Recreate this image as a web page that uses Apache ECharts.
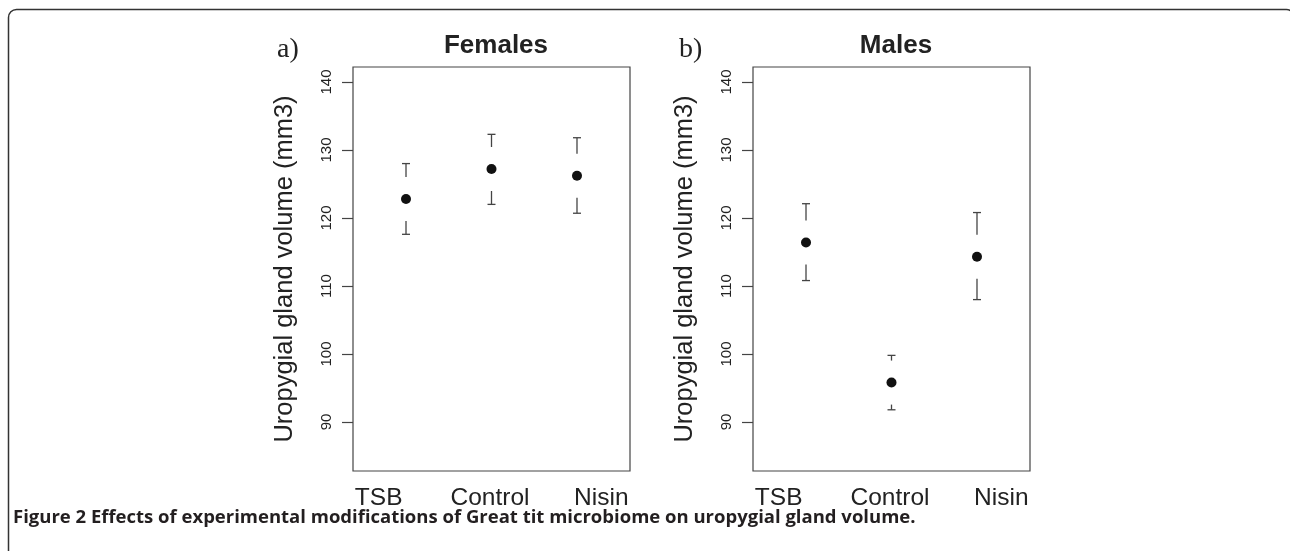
<!DOCTYPE html>
<html>
<head>
<meta charset="utf-8">
<script src="https://cdn.jsdelivr.net/npm/echarts@6/dist/echarts.min.js"></script>
<style>
html, body { margin: 0; padding: 0; background: #fff; }
#main { width: 1290px; height: 551px; }
</style>
</head>
<body>
<div id="main"></div>
<script>
var categories = ['TSB', 'Control', 'Nisin'];

// a) Females
var femaleMean = [122.8, 127.2, 126.2];
var femaleUpper = [128.0, 132.3, 131.8];
var femaleLower = [117.6, 122.0, 120.7];

// b) Males
var maleMean = [116.4, 95.8, 114.3];
var maleUpper = [122.1, 99.8, 120.8];
var maleLower = [110.8, 91.8, 108.0];

var yTicks = [90, 100, 110, 120, 130, 140];
var yLim = [85, 140];
var xLim = [0.5, 3.5];

var dark = '#222';
var lineCol = '#444';

// R style axis extension (4% each side)
function extend(lim) {
    var d = (lim[1] - lim[0]) * 0.04;
    return [lim[0] - d, lim[1] + d];
}

function pts(mean) {
    return mean.map(function (v, i) { return [i + 1, v]; });
}
function bars(mean, lower, upper) {
    return mean.map(function (v, i) { return [i + 1, v, lower[i], upper[i]]; });
}

// error bar with a gap round the point, like plotCI
function renderBar(params, api) {
    var x = api.value(0);
    var m = api.coord([x, api.value(1)]);
    var lo = api.coord([x, api.value(2)]);
    var hi = api.coord([x, api.value(3)]);
    var gap = 22, cap = 4;
    var st = { stroke: lineCol, lineWidth: 1.3 };
    var topEnd = Math.max(hi[1] + 1, m[1] - gap);
    var botEnd = Math.min(lo[1] - 1, m[1] + gap);
    return {
        type: 'group',
        children: [
            { type: 'line', shape: { x1: m[0], y1: hi[1], x2: m[0], y2: topEnd }, style: st },
            { type: 'line', shape: { x1: m[0] - cap, y1: hi[1], x2: m[0] + cap, y2: hi[1] }, style: st },
            { type: 'line', shape: { x1: m[0], y1: lo[1], x2: m[0], y2: botEnd }, style: st },
            { type: 'line', shape: { x1: m[0] - cap, y1: lo[1], x2: m[0] + cap, y2: lo[1] }, style: st }
        ]
    };
}

function yAxisFor(gi) {
    var ext = extend(yLim);
    return {
        type: 'value', gridIndex: gi, min: ext[0], max: ext[1],
        name: 'Uropygial gland volume (mm3)',
        nameLocation: 'middle', nameRotate: 90, nameGap: 55,
        nameTextStyle: { fontSize: 25.5, color: dark },
        axisLine: { show: false },
        axisTick: { show: true, length: 11, customValues: yTicks, lineStyle: { color: lineCol, width: 1.2 } },
        axisLabel: { rotate: 90, margin: 19, fontSize: 15, color: dark, customValues: yTicks },
        splitLine: { show: false }
    };
}

function xAxisFor(gi) {
    var ext = extend(xLim);
    return { type: 'value', gridIndex: gi, min: ext[0], max: ext[1], show: false };
}

function labelAxis(gi) {
    return {
        type: 'category', gridIndex: gi, data: categories,
        axisLine: { show: false }, axisTick: { show: false },
        axisLabel: { interval: 0, fontSize: 24.5, margin: 15, color: dark }
    };
}

var boxStyle = { show: true, borderColor: lineCol, borderWidth: 1.2, backgroundColor: 'transparent' };

var myChart = echarts.init(document.getElementById('main'));
var option = {
    animation: false,
    backgroundColor: '#fff',
    textStyle: { fontFamily: 'Liberation Sans' },
    title: [
        { text: 'Females', left: 491, top: 28, textAlign: 'center',
          textStyle: { fontSize: 26, fontWeight: 'bold', color: dark } },
        { text: 'Males', left: 891, top: 28, textAlign: 'center',
          textStyle: { fontSize: 26, fontWeight: 'bold', color: dark } },
        { text: 'a)', left: 272, top: 31,
          textStyle: { fontSize: 28, fontWeight: 'normal', fontFamily: 'Liberation Serif', color: dark } },
        { text: 'b)', left: 674, top: 31,
          textStyle: { fontSize: 28, fontWeight: 'normal', fontFamily: 'Liberation Serif', color: dark } }
    ],
    grid: [
        Object.assign({ left: 353, top: 67, width: 277, height: 404 }, boxStyle),
        Object.assign({ left: 753, top: 67, width: 277, height: 404 }, boxStyle),
        { left: 323, top: 67, width: 334, height: 404, show: false },
        { left: 723, top: 67, width: 334, height: 404, show: false }
    ],
    xAxis: [xAxisFor(0), xAxisFor(1), labelAxis(2), labelAxis(3)],
    yAxis: [yAxisFor(0), yAxisFor(1), { gridIndex: 2, show: false }, { gridIndex: 3, show: false }],
    graphic: [
        { type: 'rect', silent: true, shape: { x: 8.5, y: 9.5, width: 1286, height: 580, r: 8 },
          style: { fill: 'none', stroke: '#333', lineWidth: 1.5 } },
        { type: 'text', left: 13, top: 508,
          style: { text: 'Figure 2 Effects of experimental modifications of Great tit microbiome on uropygial gland volume.',
                   fontFamily: 'Open Sans', fontWeight: 'bold', fontSize: 18.5, fill: '#231f20' } }
    ],
    series: [
        { type: 'custom', xAxisIndex: 0, yAxisIndex: 0, renderItem: renderBar,
          data: bars(femaleMean, femaleLower, femaleUpper) },
        { type: 'scatter', xAxisIndex: 0, yAxisIndex: 0, symbolSize: 10,
          itemStyle: { color: '#111', opacity: 1 }, data: pts(femaleMean) },
        { type: 'custom', xAxisIndex: 1, yAxisIndex: 1, renderItem: renderBar,
          data: bars(maleMean, maleLower, maleUpper) },
        { type: 'scatter', xAxisIndex: 1, yAxisIndex: 1, symbolSize: 10,
          itemStyle: { color: '#111', opacity: 1 }, data: pts(maleMean) }
    ]
};
myChart.setOption(option);
</script>
</body>
</html>
